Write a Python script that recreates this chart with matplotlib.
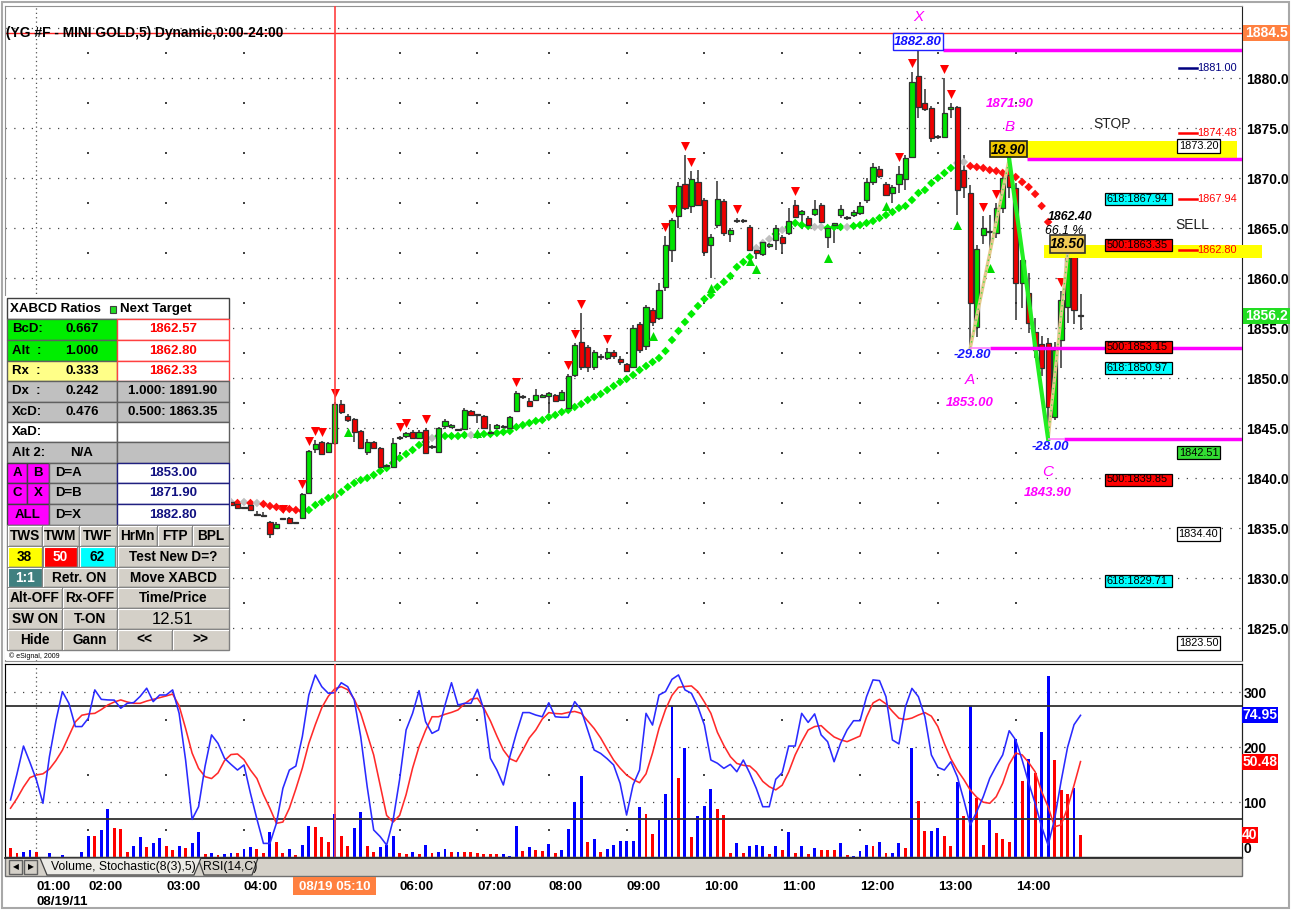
import numpy as np
import matplotlib
matplotlib.use("Agg")
import matplotlib.pyplot as plt
from matplotlib.patches import Rectangle, Polygon
from matplotlib.transforms import blended_transform_factory

plt.rcParams['font.family'] = ['Liberation Sans', 'DejaVu Sans']

# ---------------- data (5-minute bars, index 0 = first bar of the session) ----------------
first_bar = 34   # earlier candles are hidden behind the XABCD table

opens = [1837.6, 1837.4, 1837.0, 1837.3, 1836.3, 1836.2, 1835.6, 1835.0, 1835.9, 1836.0, 1835.5, 1836.0, 1838.5, 1842.9, 1843.6, 1842.6,
         1843.5, 1847.4, 1846.2, 1845.9, 1844.7, 1842.6, 1843.6, 1843.0, 1841.2, 1841.1,
         1844.0, 1844.2, 1844.6, 1844.0, 1844.8, 1843.1, 1842.6, 1845.2, 1845.1, 1844.8,
         1844.9, 1846.7, 1846.3, 1846.2, 1844.5, 1845.0, 1845.1, 1845.0, 1846.7, 1848.1,
         1847.7, 1847.8, 1848.1, 1848.2, 1848.3, 1847.8, 1847.0, 1850.3, 1853.6, 1853.1,
         1851.1, 1852.1, 1852.0, 1852.6, 1851.9, 1851.4, 1851.1, 1855.4, 1853.2, 1856.8,
         1856.0, 1859.1, 1862.8, 1866.2, 1869.4, 1867.2, 1869.6, 1867.8, 1863.3, 1865.3,
         1867.7, 1864.4, 1865.7, 1865.7, 1865.1, 1862.8, 1862.4, 1863.2, 1863.8, 1864.1,
         1864.5, 1867.3, 1866.4, 1866.0, 1866.4, 1867.3, 1864.1, 1865.3, 1866.3, 1866.0,
         1866.3, 1866.5, 1867.8, 1869.6, 1870.9, 1869.4, 1868.5, 1869.4, 1869.9, 1872.1,
         1880.2, 1877.5, 1877.0, 1874.1, 1874.1, 1876.9, 1877.1, 1870.8, 1868.5, 1855.1,
         1864.3, 1864.6, 1864.5, 1867.0, 1870.3, 1869.0, 1859.5, 1858.5, 1854.6, 1853.4,
         1853.5, 1846.1, 1853.8, 1857.1, 1862.3, 1856.2]
highs = [1837.8, 1837.6, 1837.1, 1837.4, 1836.7, 1836.6, 1835.7, 1835.6, 1836.0, 1836.1, 1835.6, 1838.5, 1842.8, 1843.8, 1843.7, 1843.6,
         1847.6, 1847.8, 1846.4, 1846.0, 1844.8, 1843.9, 1843.7, 1843.1, 1841.3, 1844.0,
         1844.2, 1844.6, 1844.8, 1844.8, 1845.0, 1843.3, 1845.1, 1845.9, 1845.4, 1844.9,
         1847.0, 1846.8, 1846.4, 1846.3, 1845.4, 1845.4, 1845.3, 1846.2, 1848.7, 1848.3,
         1848.0, 1848.9, 1848.4, 1848.6, 1848.4, 1848.8, 1850.4, 1853.5, 1856.5, 1853.3,
         1852.8, 1852.4, 1853.0, 1852.8, 1852.2, 1851.5, 1855.3, 1855.6, 1857.3, 1857.0,
         1859.5, 1864.2, 1866.0, 1869.6, 1872.3, 1870.7, 1870.8, 1868.0, 1864.4, 1869.7,
         1867.9, 1865.0, 1866.0, 1865.9, 1865.3, 1863.0, 1863.8, 1863.5, 1865.3, 1864.3,
         1867.0, 1867.8, 1866.8, 1866.2, 1867.8, 1867.5, 1865.2, 1865.5, 1867.3, 1866.2,
         1866.8, 1867.5, 1870.0, 1871.5, 1871.2, 1869.6, 1869.3, 1871.2, 1872.3, 1880.6,
         1882.8, 1878.9, 1877.2, 1874.3, 1880.0, 1877.5, 1877.2, 1872.3, 1869.3, 1863.3,
         1866.2, 1866.3, 1867.5, 1870.2, 1871.9, 1869.5, 1862.5, 1860.5, 1856.0, 1854.2,
         1854.0, 1853.6, 1858.7, 1862.4, 1862.5, 1858.4]
lows = [1837.2, 1836.9, 1836.9, 1836.7, 1836.3, 1836.2, 1834.0, 1834.9, 1835.8, 1835.4, 1835.4, 1835.9, 1838.4, 1842.5, 1842.3, 1842.5,
        1843.3, 1846.4, 1845.6, 1843.6, 1843.0, 1842.3, 1842.9, 1841.1, 1841.0, 1841.0,
        1843.8, 1844.0, 1844.0, 1843.9, 1842.4, 1842.9, 1842.5, 1844.9, 1845.0, 1844.7,
        1844.8, 1846.2, 1845.5, 1845.0, 1844.4, 1844.9, 1845.0, 1844.9, 1846.6, 1847.9,
        1847.1, 1847.7, 1848.0, 1846.5, 1847.6, 1847.7, 1846.9, 1850.1, 1850.8, 1850.6,
        1850.8, 1851.8, 1851.8, 1851.9, 1851.3, 1850.6, 1851.0, 1852.5, 1852.8, 1855.2,
        1855.8, 1858.7, 1861.6, 1865.0, 1866.8, 1866.5, 1867.3, 1862.2, 1860.0, 1865.0,
        1864.2, 1863.6, 1865.5, 1865.5, 1862.7, 1861.9, 1862.2, 1863.0, 1862.8, 1862.6,
        1864.3, 1866.0, 1865.5, 1865.1, 1866.2, 1865.5, 1863.0, 1863.5, 1866.0, 1865.8,
        1866.1, 1866.3, 1867.5, 1869.3, 1870.0, 1868.2, 1867.5, 1868.5, 1868.8, 1872.0,
        1876.0, 1876.7, 1873.6, 1873.9, 1874.0, 1876.0, 1866.3, 1868.0, 1853.0, 1854.1,
        1863.4, 1862.0, 1864.0, 1866.5, 1868.0, 1855.8, 1857.0, 1854.5, 1852.0, 1850.2,
        1843.9, 1845.8, 1851.0, 1855.5, 1855.4, 1854.8]
closes = [1837.3, 1837.0, 1837.0, 1836.8, 1836.3, 1836.2, 1834.4, 1835.4, 1835.9, 1835.5, 1835.5, 1838.4, 1842.7, 1843.4, 1842.4, 1843.5,
          1847.4, 1846.6, 1845.8, 1844.6, 1843.0, 1843.6, 1843.0, 1841.1, 1841.2, 1843.5,
          1844.0, 1844.5, 1844.0, 1844.6, 1842.5, 1843.1, 1845.0, 1845.7, 1845.3, 1844.8,
          1846.8, 1846.3, 1846.3, 1845.0, 1844.5, 1845.3, 1845.2, 1846.1, 1848.5, 1848.1,
          1847.2, 1848.3, 1848.3, 1848.5, 1847.7, 1848.6, 1850.2, 1853.3, 1851.1, 1851.1,
          1852.6, 1852.1, 1852.6, 1852.2, 1851.6, 1850.7, 1855.0, 1852.8, 1857.1, 1855.6,
          1858.8, 1863.3, 1865.8, 1869.2, 1867.0, 1869.9, 1867.3, 1862.6, 1864.1, 1867.9,
          1864.5, 1864.8, 1865.7, 1865.7, 1862.8, 1862.5, 1863.6, 1863.4, 1865.0, 1863.5,
          1865.7, 1866.1, 1866.7, 1865.3, 1866.9, 1865.6, 1865.0, 1865.5, 1866.9, 1866.0,
          1866.6, 1867.2, 1869.6, 1871.1, 1870.2, 1868.3, 1869.1, 1870.4, 1872.0, 1879.6,
          1877.1, 1876.9, 1874.0, 1874.1, 1876.5, 1877.1, 1868.8, 1869.1, 1857.5, 1862.9,
          1865.0, 1864.6, 1867.0, 1870.0, 1869.1, 1859.5, 1861.8, 1855.5, 1852.8, 1851.0,
          1847.1, 1852.8, 1857.8, 1862.0, 1856.8, 1856.2]

# swing markers (bar indices)
swing_high_bars = [42, 45, 46, 47, 48, 50, 60, 61, 64, 78, 86, 87, 88, 92, 101, 102, 104, 105,
                   112, 121, 137, 139, 144, 145, 150, 152, 162, 164]
swing_low_bars = [52, 72, 99, 108, 114, 115, 126, 135, 146, 151]

# trailing stop dots, bars 34..160 ; g = long, r = short, s = neutral
psar_first = 34
psar = [1837.6, 1837.5, 1837.6, 1837.5, 1837.5, 1837.4, 1837.2, 1837.1, 1836.9, 1836.9, 1836.8, 1836.7,
        1836.8, 1837.3, 1837.6, 1838.0, 1838.2, 1838.6, 1839.1, 1839.5, 1839.8, 1840.0, 1840.3, 1840.7,
        1841.0, 1841.5, 1842.0, 1842.4, 1842.8, 1843.3, 1843.6, 1844.0, 1844.2, 1844.2, 1844.2, 1844.2,
        1844.3, 1844.3, 1844.3, 1844.4, 1844.4, 1844.5, 1844.6, 1844.7, 1845.1, 1845.3, 1845.5, 1845.7,
        1845.8, 1846.1, 1846.3, 1846.6, 1846.8, 1847.1, 1847.4, 1847.8, 1848.1, 1848.4, 1848.8, 1849.2,
        1849.6, 1849.9, 1850.3, 1850.8, 1851.2, 1851.6, 1852.0, 1852.7, 1853.8, 1854.7, 1855.6, 1856.4,
        1857.2, 1857.9, 1858.3, 1859.1, 1859.6, 1860.2, 1861.1, 1861.6, 1862.1, 1863.0, 1863.5, 1863.9,
        1864.4, 1864.8, 1865.1, 1865.5, 1865.3, 1865.2, 1865.1, 1865.1, 1865.0, 1865.1, 1865.1, 1865.1,
        1865.2, 1865.3, 1865.5, 1865.7, 1866.0, 1866.3, 1866.6, 1867.0, 1867.2, 1867.8, 1868.5, 1868.8,
        1869.5, 1870.0, 1870.5, 1871.0, 1871.5, 1871.6, 1871.2, 1871.1, 1871.0, 1870.8, 1870.7, 1870.5,
        1870.3, 1870.1, 1869.6, 1869.1, 1868.4, 1867.2, 1865.6]
psar_state = ("srsrsrrrrrrr" + "g" * 19 + "s" + "ggggg" + "s" + "g" * 43 + "sss" + "g" + "s" + "gggg" + "ss"
              + "ggg" + "s" + "g" * 16 + "ss" + "r" * 13)

# XABCD pattern points (bar, price)
pat_bar = {'X': 140, 'A': 148, 'B': 154, 'C': 160, 'D': 163}
pat_px = {'X': 1882.8, 'A': 1853.0, 'B': 1871.9, 'C': 1843.9, 'D': 1862.4}

# lower pane: volume and Stochastic(8(3),5), bars 0..165
volume = [16, 8, 10, 12, 10, 0, 7, 0, 4, 0, 0, 10, 38, 38, 49, 88, 53, 51, 10, 20,
          36, 18, 25, 34, 20, 13, 20, 16, 25, 46, 5, 7, 3, 5, 7, 7, 14, 18, 14, 7,
          46, 28, 7, 14, 3, 22, 56, 55, 36, 28, 78, 38, 20, 52, 82, 20, 9, 18, 22, 38,
          7, 5, 10, 5, 22, 7, 9, 14, 10, 10, 10, 10, 8, 5, 5, 5, 5, 2, 57, 11,
          18, 13, 11, 24, 8, 13, 51, 100, 148, 28, 32, 9, 14, 22, 30, 30, 30, 91, 79, 42,
          68, 115, 274, 144, 198, 36, 74, 93, 123, 87, 77, 8, 26, 7, 20, 22, 20, 5, 20, 13,
          46, 7, 20, 5, 16, 13, 13, 13, 26, 3, 2, 11, 22, 20, 28, 8, 8, 26, 16, 199,
          101, 47, 47, 53, 38, 20, 136, 75, 275, 107, 22, 68, 43, 32, 28, 214, 139, 179, 153, 228,
          329, 177, 122, 115, 125, 40]
vol_side = ("rrbbrbbbbbbbbrbbrrrb" "brbbrrbrbbrbrbbrbbrr" "brrbrbbrrrbrrbbrrbbb" "rrbrbrbbrbrrrrrrbbbr"
            "brrbrbbbbrbrbbbbbbrr" "bbbrbrbbbrrrbrbbbrbr" "brbrbrrrbrbbbrbrbbrb" "rrbbrrbrbrrbrrrbrbrb"
            "brrrbr")
stoch_k = [30.2, 44, 58.7, 50, 40.7, 28.4, 53.1, 72, 87.5, 81.3, 69.0, 69.0, 73.4, 88.4, 83.4, 83.1, 83.0, 78.7, 81.3, 81.7,
           85, 89.3, 82.2, 85.7, 85.7, 88.4, 76.0, 51.3, 19.9, 26.6, 48, 64.6, 60.1, 52.2, 49, 46.0, 48.7, 33.7, 20, 7.2,
           7.2, 17.8, 36.3, 46.0, 48.1, 63.7, 85.7, 96.3, 90.1, 86.6, 86.9, 92.2, 90.1, 83.1, 63.7, 37.2, 14.3, 10.8, 6.3, 19.6,
           41, 67.2, 76.0, 88.0, 71.6, 65.4, 67.2, 80.4, 92.2, 80.4, 81.3, 81.3, 88.7, 77.8, 52.2, 46.0, 38.1, 53.1, 65.4, 76.4,
           76.4, 75.1, 74.2, 81.6, 74.2, 73.9, 73.9, 82.2, 77.8, 67.2, 56.6, 54.8, 52.0, 48.7, 39.0, 22.2, 38.1, 46.0, 76.0, 69.8,
           85.7, 87.5, 94.0, 96.3, 88.4, 86.6, 79.5, 69.8, 51.3, 49.6, 46.9, 49.0, 45.1, 51.3, 44.3, 36.3, 26.6, 26.6, 41.1, 44.6,
           58.7, 58.7, 76.0, 71.2, 75.7, 64.6, 61.0, 50.4, 60.1, 67.2, 72.1, 72.1, 84.8, 93.7, 93.3, 84.8, 61.9, 59.8, 79.5, 89.2,
           84.8, 74.2, 54.0, 47.4, 46.0, 50.4, 42.5, 30.2, 16.9, 24.0, 31.9, 41.6, 48.1, 54.0, 66.8, 61.9, 51.3, 39.3, 28.4, 16.0,
           6.3, 20.0, 40.0, 58.0, 70.0, 74.95]
stoch_d = [25.8, 31, 37, 42, 43.4, 44, 46.5, 51, 56.5, 64, 71.5, 75, 75.7, 76, 78, 80.4, 82, 83.1, 82, 81.3,
           81.3, 82.5, 83.4, 84.3, 85.2, 86.2, 80, 68, 55, 46.9, 42.5, 41.5, 44.5, 51, 54.2, 54.5, 51.5, 46, 41.5, 33,
           25.8, 17.8, 18.5, 25.8, 36, 47, 60.1, 70, 79, 85, 89, 90.1, 88.5, 83.5, 76, 65, 54, 38, 22, 18.5,
           22, 33, 47, 58.4, 67, 74.2, 74.2, 75.5, 76.5, 77.8, 81, 83.5, 84, 78.7, 72, 64, 56.6, 52, 50.5, 56.6,
           63, 67.2, 73, 76.4, 75.9, 75.7, 76.5, 77.0, 76.0, 72, 68, 63, 57, 51.3, 47, 43.4, 41, 39.3, 44, 55,
           68, 78, 85.5, 89.8, 90.2, 90.5, 87.5, 82, 76.0, 66, 59, 53.1, 49.5, 48.5, 48.1, 45, 40, 37.2, 35.5, 38,
           45, 54, 61, 67.2, 69, 69.5, 66.3, 63.5, 62, 61.0, 62.5, 64.0, 74, 81.5, 83.4, 81, 77, 73.4, 72.7, 73.5,
           75.1, 76.4, 74.5, 69, 60, 52, 46, 41, 35.4, 31.6, 29, 28.4, 31.9, 39, 49, 55, 54, 50, 45.1, 34.6,
           26.6, 16.0, 17, 26, 38, 50.48]

# time axis labels (bar index -> label)
time_ticks = [4, 12, 24, 36, 60, 72, 83, 95, 107, 119, 131, 143, 155]
time_labels = ['01:00\n08/19/11', '02:00', '03:00', '04:00', '06:00', '07:00', '08:00', '09:00',
               '10:00', '11:00', '12:00', '13:00', '14:00']
cursor_bar = 50
cursor_label = '08/19 05:10'
# ---------------------------------------------------------------------------------------------

W, H = 1294, 911
fig = plt.figure(figsize=(W / 100, H / 100), dpi=100)
fig.patch.set_facecolor('white')


def frac(x0, y0, x1, y1):
    return [x0 / W, 1 - y1 / H, (x1 - x0) / W, (y1 - y0) / H]


ax = fig.add_axes(frac(5, 6, 1242, 661))
axv = fig.add_axes(frac(5, 664, 1242, 857), sharex=ax)
axs = axv.twinx()
ov = fig.add_axes([0, 0, 1, 1], zorder=10)
ov.set_xlim(0, W)
ov.set_ylim(H, 0)
ov.axis('off')
ov.patch.set_alpha(0)
bt = blended_transform_factory(ov.transData, ax.transData)   # x in pixels, y in price

XMIN, XMAX = -0.85, 189.9
ax.set_xlim(XMIN, XMAX)
ax.set_ylim(1821.7, 1887.2)
axv.set_ylim(0, 351)
axs.set_ylim(0, 102.1)

for a in (ax, axv):
    for s in a.spines.values():
        s.set_color('#909090')
    a.spines['right'].set_color('#202020')
axs.spines['right'].set_color('#202020')

# ---- main pane grid ----
levels = np.arange(1825, 1886, 5)
ax.hlines(levels, XMIN, XMAX, colors='#444444', linestyles=(0, (1, 6)), lw=0.9, zorder=0)
hx, hy = np.meshgrid(time_ticks[1:], levels[:-1] + 2.5)
ax.scatter(hx.ravel(), hy.ravel(), s=1.5, marker='s', color='#444444', zorder=0, lw=0)
ax.axvline(time_ticks[0], color='#555555', ls=(0, (1, 2.5)), lw=0.9, zorder=0)
ax.axhline(1884.5, color='#ff2020', lw=1.0, zorder=2)
ax.axvline(cursor_bar, color='#ff4040', lw=1.2, zorder=6)

ax.text(6, 33, '(YG #F - MINI GOLD,5) Dynamic,0:00-24:00', transform=ov.transData, fontsize=9.9,
        fontweight='bold', va='center', ha='left', zorder=3, clip_on=False)

# ---- candles ----
o = np.array(opens); h = np.array(highs); l = np.array(lows); c = np.array(closes)
xs = np.arange(first_bar, first_bar + len(o))
ax.vlines(xs, l, h, color='#303030', lw=1.1, zorder=3)
body_col = np.where(c > o, '#00e400', np.where(c < o, '#ee0000', '#303030'))
ax.bar(xs, np.maximum(np.abs(c - o), 0.12), bottom=np.minimum(o, c), width=0.8,
       color=body_col, edgecolor='#303030', lw=0.9, zorder=4)

# trailing dots
pcol = {'g': '#00ee00', 'r': '#ff1010', 's': '#c0c0c0'}
pxs = np.arange(psar_first, psar_first + len(psar))
ax.scatter(pxs, psar, marker='D', s=19, c=[pcol[k] for k in psar_state], lw=0, zorder=3.5)

# swing markers
ax.scatter(swing_high_bars, h[np.array(swing_high_bars) - first_bar] + 0.95, marker='v', s=42,
           color='#ff0000', lw=0, zorder=5)
ax.scatter(swing_low_bars, l[np.array(swing_low_bars) - first_bar] - 0.95, marker='^', s=42,
           color='#00dd00', lw=0, zorder=5)

# ---- XABCD drawing ----
pb, pp = pat_bar, pat_px
ax.plot([pb['A'], pb['B']], [pp['A'], pp['B']], color='#e6c98c', lw=2.4, zorder=5)
ax.plot([pb['A'], pb['B']], [pp['A'], pp['B']], color='#40e040', lw=1, ls=(0, (1, 3)), zorder=5)
ax.plot([pb['C'], pb['D']], [pp['C'], pp['D']], color='#e6c98c', lw=2.4, zorder=5)
ax.plot([pb['C'], pb['D']], [pp['C'], pp['D']], color='#40e040', lw=1, ls=(0, (1, 3)), zorder=5)
ax.plot([pb['B'], pb['C']], [pp['B'], pp['C']], color='#22ee22', lw=3, zorder=5)

ax.hlines(pp['X'], pb['X'] + 3.8, XMAX, color='#ff00ff', lw=2.5, zorder=5)
ax.add_patch(Rectangle((pb['B'] - 3, pp['B'] + 0.1), XMAX - 0.8 - (pb['B'] - 3), 1.7,
                       fc='#ffff00', ec='none', zorder=4.5))
ax.hlines(pp['B'], pb['B'] + 2.7, XMAX, color='#ff00ff', lw=2.5, zorder=5)
ax.hlines(pp['A'], pb['A'], pb['A'] + 3, color='#ff80ff', lw=1.2, zorder=5)
ax.hlines(pp['A'], pb['A'] + 3, XMAX, color='#ff00ff', lw=2.5, zorder=5)
ax.hlines(pp['C'], pb['C'], pb['C'] + 2.5, color='#ff80ff', lw=1.2, zorder=5)
ax.hlines(pp['C'], pb['C'] + 2.5, XMAX, color='#ff00ff', lw=2.5, zorder=5)
ax.add_patch(Rectangle((pb['D'] - 3.7, 1862.0), 193.0 - (pb['D'] - 3.7), 1.3,
                       fc='#ffff00', ec='none', zorder=4.5, clip_on=False))

# right price axis
ax.yaxis.tick_right()
ax.set_yticks(levels[:-1])
ax.set_yticklabels([f'{v:.1f}' for v in levels[:-1]], fontsize=10, fontweight='bold')
ax.tick_params(axis='y', length=0, pad=3)
ax.tick_params(axis='x', bottom=False, labelbottom=False)

# ---- lower pane ----
axv.hlines([100, 200, 300], XMIN, XMAX, colors='#444444', linestyles=(0, (1, 6)), lw=0.9, zorder=0)
vx, vy = np.meshgrid(time_ticks[1:], [50, 150, 250])
axv.scatter(vx.ravel(), vy.ravel(), s=1.5, marker='s', color='#444444', lw=0, zorder=0)
axv.axvline(time_ticks[0], color='#555555', ls=(0, (1, 2.5)), lw=0.9, zorder=0)
vcol = {'b': '#0000ff', 'r': '#ff0000'}
axv.bar(np.arange(len(volume)), volume, width=0.45, color=[vcol[k] for k in vol_side], zorder=2)
axv.yaxis.tick_right()
axv.set_yticks([100, 200, 300])
axv.set_yticklabels(['100', '200', '300'], fontsize=10, fontweight='bold')
axv.tick_params(axis='y', length=0, pad=1)

axs.axhline(80, color='#303030', lw=1.3, zorder=1)
axs.axhline(20, color='#303030', lw=1.3, zorder=1)
bars = np.arange(len(stoch_k))
axs.plot(bars, stoch_d, color='#ff2a2a', lw=1.15, zorder=3)
axs.plot(bars, stoch_k, color='#2a2aff', lw=1.15, zorder=3)
axs.axvline(cursor_bar, color='#ff4040', lw=1.2, zorder=6)
axs.set_yticks([])

axv.set_xticks(time_ticks)
axv.set_xticklabels(time_labels, fontsize=9.6, fontweight='bold', ha='left', linespacing=1.35)
axv.tick_params(axis='x', length=0, pad=17)

# ---------------- overlay chrome (pixel coordinates) ----------------
def rect(x0, y0, x1, y1, fc, ec='#808080', lw=1.0, tr=None, z=1):
    ov.add_patch(Rectangle((x0, y0), x1 - x0, y1 - y0, fc=fc, ec=ec, lw=lw, zorder=z,
                           transform=tr if tr is not None else ov.transData, clip_on=False))


def label(x, y, s, tr=None, **kw):
    kw.setdefault('fontsize', 9.2)
    kw.setdefault('va', 'center')
    kw.setdefault('ha', 'center')
    z = kw.pop('z', 3)
    ov.text(x, y, s, transform=tr if tr is not None else ov.transData, zorder=z, **kw)


# outer frame and tab bar
rect(2, 2, 1289, 908, 'none', ec='#a8a8a8', lw=1.5)
rect(5, 857, 1242, 876, '#d4d0c8', ec='#707070')
ov.plot([5, 1242], [858, 858], color='#202020', lw=1.2, zorder=2)
rect(9, 860, 22, 874, '#d4d0c8', ec='#606060')
rect(24, 860, 37, 874, '#d4d0c8', ec='#606060')
label(15.5, 867, '\u25c0', fontsize=5.5, family='DejaVu Sans')
label(30.5, 867, '\u25b6', fontsize=5.5, family='DejaVu Sans')
ov.add_patch(Polygon([(40, 858), (47, 875), (194, 875), (201, 858)], closed=True, fc='#ecebe6',
                     ec='#404040', lw=0.9, zorder=2))
ov.add_patch(Polygon([(198, 858), (204, 875), (252, 875), (258, 858)], closed=True, fc='#d4d0c8',
                     ec='#404040', lw=0.9, zorder=1.5))
label(51, 867, 'Volume, Stochastic(8(3),5)', ha='left', fontsize=8.8)
label(203, 867, 'RSI(14,C)', ha='left', fontsize=8.8)

# cursor time label
cx = 10.5 + 6.485 * cursor_bar
rect(cx - 42, 877, cx + 41, 895, '#ff8040', ec='none')
label(cx, 886.5, cursor_label, color='white', fontweight='bold', fontsize=9.6)

# right-axis value flags
rect(1243, 25, 1290, 41, '#ff8040', ec='none')
label(1266.5, 33, '1884.5', color='white', fontweight='bold', fontsize=10)
rect(1243, 308, 1290, 324, '#22dd22', ec='none')
label(1266.5, 316, '1856.2', color='white', fontweight='bold', fontsize=10)
rect(1242, 707, 1278, 723, '#0000ff', ec='none')
label(1260, 715, '74.95', color='white', fontweight='bold', fontsize=10)
rect(1242, 754, 1278, 770, '#ff0000', ec='none')
label(1260, 762, '50.48', color='white', fontweight='bold', fontsize=10)
rect(1242, 827, 1258, 843, '#ff0000', ec='none')
label(1250, 835, '40', color='white', fontweight='bold', fontsize=10)
label(1244, 849, '0', ha='left', fontweight='bold', fontsize=10)

# price ladder boxes (x pixels, y price)
ladder = [('618:1867.94', 1867.94, '#00ffff'), ('500:1863.35', 1863.35, '#ff0000'),
          ('500:1853.15', 1853.15, '#ff0000'), ('618:1850.97', 1850.97, '#00ffff'),
          ('500:1839.85', 1839.85, '#ff0000'), ('618:1829.71', 1829.71, '#00ffff')]
for txt, p, col in ladder:
    rect(1105, p - 0.6, 1172, p + 0.6, col, ec='#000000', lw=0.9, tr=bt, z=2)
    label(1106.5, p, txt, tr=bt, ha='left', fontsize=7.9)
targets = [('1873.20', 1873.2, 'white'), ('1842.51', 1842.51, '#33dd33'),
           ('1834.40', 1834.4, 'white'), ('1823.50', 1823.5, 'white')]
for txt, p, col in targets:
    rect(1177, p - 0.65, 1220, p + 0.65, col, ec='#000000', lw=0.9, tr=bt, z=2)
    label(1198.5, p, txt, tr=bt, fontsize=7.9)
ticks_r = [('1881.00', 1881.0, '#000080'), ('1874.48', 1874.48, '#ff0000'),
           ('1867.94', 1867.94, '#ff0000'), ('1862.80', 1862.8, '#ff0000')]
for txt, p, col in ticks_r:
    ov.plot([1179, 1197], [p, p], color=col, lw=1.8, transform=bt, zorder=3)
    label(1197, p, txt, tr=bt, ha='left', fontsize=7.9, color=col)
label(1112, 124, 'STOP', fontsize=10, color='#202020')
label(1192, 225, 'SELL', fontsize=10, color='#202020')

# pattern labels
mag = '#ff00ff'
label(918, 17, 'X', color=mag, style='italic', fontsize=11)
rect(893, 33, 943, 50, 'white', ec='#2020ff', lw=1)
label(918, 42, '1882.80', color='#1010ff', style='italic', fontweight='bold', fontsize=9.5)
label(1010, 104, '1871.90', color=mag, style='italic', fontweight='bold', fontsize=9.5)
label(1010, 127, 'B', color=mag, style='italic', fontsize=11)
rect(990, 141, 1027, 157, '#f0c800', ec='#202020', lw=1.2)
label(1008.5, 149.5, '18.90', style='italic', fontweight='bold', fontsize=10)
label(972, 355, '-29.80', color='#1818ff', style='italic', fontweight='bold', fontsize=9.5)
label(970, 380, 'A', color=mag, style='italic', fontsize=11)
label(970, 403, '1853.00', color=mag, style='italic', fontweight='bold', fontsize=9.5)
label(1050, 447, '-28.00', color='#1818ff', style='italic', fontweight='bold', fontsize=9.5)
label(1048, 472, 'C', color=mag, style='italic', fontsize=11)
label(1048, 493, '1843.90', color=mag, style='italic', fontweight='bold', fontsize=9.5)
label(1070, 217, '1862.40', style='italic', fontweight='bold', fontsize=8.8)
label(1064, 231, '66.1 %', style='italic', fontsize=8.8)
rect(1050, 235, 1085, 253, '#f2cc55', ec='#303030', lw=1.2)
label(1067.5, 244.5, '18.50', style='italic', fontweight='bold', fontsize=10)

# ---------------- XABCD table ----------------
rect(5, 296, 231, 660, 'white', ec='none', z=0.5)
ys = [298, 319, 340, 361, 381, 402, 422, 442, 463, 483, 504, 525, 546, 567, 587, 608, 629, 650]
L0, M, R1 = 7, 117, 229
rect(L0, ys[0], R1, ys[1], 'white', ec='#404040')
label(10, 309, 'XABCD Ratios', ha='left', fontweight='bold', fontsize=9.5)
rect(110, 306, 116, 313, '#22dd22', ec='#404040', lw=0.8, z=2)
label(120, 309, 'Next Target', ha='left', fontweight='bold', fontsize=9.5)

ratio_rows = [('BcD:', '0.667', '#00ee00', '1862.57'), ('Alt  :', '1.000', '#00ee00', '1862.80'),
              ('Rx  :', '0.333', '#ffff88', '1862.33')]
for k, (a, b, fc, t) in enumerate(ratio_rows):
    y0, y1 = ys[k + 1], ys[k + 2]
    rect(L0, y0, M, y1, fc, ec='#606060')
    rect(M, y0, R1, y1, 'white', ec='#ff4040')
    label(12, (y0 + y1) / 2, a, ha='left', fontweight='bold', fontsize=9.5)
    label(82, (y0 + y1) / 2, b, fontweight='bold', fontsize=9.5)
    label(173, (y0 + y1) / 2, t, color='#ff0000', fontweight='bold', fontsize=9.5)
grey_rows = [('Dx  :', '0.242', '1.000: 1891.90', '#c0c0c0'), ('XcD:', '0.476', '0.500: 1863.35', '#c0c0c0'),
             ('XaD:', '', '', 'white'), ('Alt 2:', 'N/A', '', '#c0c0c0')]
for k, (a, b, t, fc) in enumerate(grey_rows):
    y0, y1 = ys[k + 4], ys[k + 5]
    rect(L0, y0, M, y1, fc, ec='#606060')
    rect(M, y0, R1, y1, fc, ec='#606060')
    label(12, (y0 + y1) / 2, a, ha='left', fontweight='bold', fontsize=9.5)
    label(82, (y0 + y1) / 2, b, fontweight='bold', fontsize=9.5)
    label(173, (y0 + y1) / 2, t, fontweight='bold', fontsize=9.5)
d_rows = [(['A', 'B'], 'D=A', '1853.00'), (['C', 'X'], 'D=B', '1871.90'), (['ALL'], 'D=X', '1882.80')]
for k, (cells, d, t) in enumerate(d_rows):
    y0, y1 = ys[k + 8], ys[k + 9]
    ym = (y0 + y1) / 2
    if len(cells) == 2:
        rect(L0, y0, 27, y1, '#ff00ff', ec='#404040')
        rect(27, y0, 49, y1, '#ff00ff', ec='#404040')
        label(17, ym, cells[0], fontweight='bold', fontsize=9.5)
        label(38, ym, cells[1], fontweight='bold', fontsize=9.5)
    else:
        rect(L0, y0, 49, y1, '#ff00ff', ec='#404040')
        label(28, ym, cells[0], fontweight='bold', fontsize=9.5)
    rect(49, y0, M, y1, '#c0c0c0', ec='#606060')
    label(55, ym, d, ha='left', fontweight='bold', fontsize=9.5)
    rect(M, y0, R1, y1, 'white', ec='#202080')
    label(173, ym, t, color='#101080', fontweight='bold', fontsize=9.5)

btn = '#d4d0c8'
button_rows = [
    [(7, 42, 'TWS', btn, 'black'), (42, 79, 'TWM', btn, 'black'), (79, 117, 'TWF', btn, 'black'),
     (117, 157, 'HrMn', btn, 'black'), (157, 192, 'FTP', btn, 'black'), (192, 229, 'BPL', btn, 'black')],
    [(7, 42, '38', '#ffff00', 'black'), (43, 77, '50', '#ff0000', 'white'), (79, 115, '62', '#00ffff', 'black'),
     (117, 229, 'Test New D=?', btn, 'black')],
    [(7, 42, '1:1', '#408080', 'white'), (42, 117, 'Retr. ON', btn, 'black'), (117, 229, 'Move XABCD', btn, 'black')],
    [(7, 62, 'Alt-OFF', btn, 'black'), (62, 117, 'Rx-OFF', btn, 'black'), (117, 229, 'Time/Price', btn, 'black')],
    [(7, 62, 'SW ON', btn, 'black'), (62, 117, 'T-ON', btn, 'black'), (117, 229, '12.51', btn, 'black')],
    [(7, 62, 'Hide', btn, 'black'), (62, 117, 'Gann', btn, 'black'), (117, 172, '<<', btn, 'black'),
     (172, 229, '>>', btn, 'black')],
]
for k, row in enumerate(button_rows):
    y0, y1 = ys[k + 11], ys[k + 12]
    for x0, x1, t, fc, tc in row:
        rect(x0, y0, x1, y1, fc, ec='#808080')
        ov.plot([x0 + 1, x0 + 1, x1 - 1], [y1 - 1, y0 + 1, y0 + 1], color='white', lw=0.8, zorder=2)
        if t == '12.51':
            label((x0 + x1) / 2, (y0 + y1) / 2 + 1, t, color=tc, fontsize=12)
        else:
            label((x0 + x1) / 2, (y0 + y1) / 2 + 0.5, t, color=tc, fontweight='bold', fontsize=9.8)
label(9, 656, '\u00a9 eSignal, 2009', ha='left', fontsize=5)

fig.savefig('out.png', dpi=100)
